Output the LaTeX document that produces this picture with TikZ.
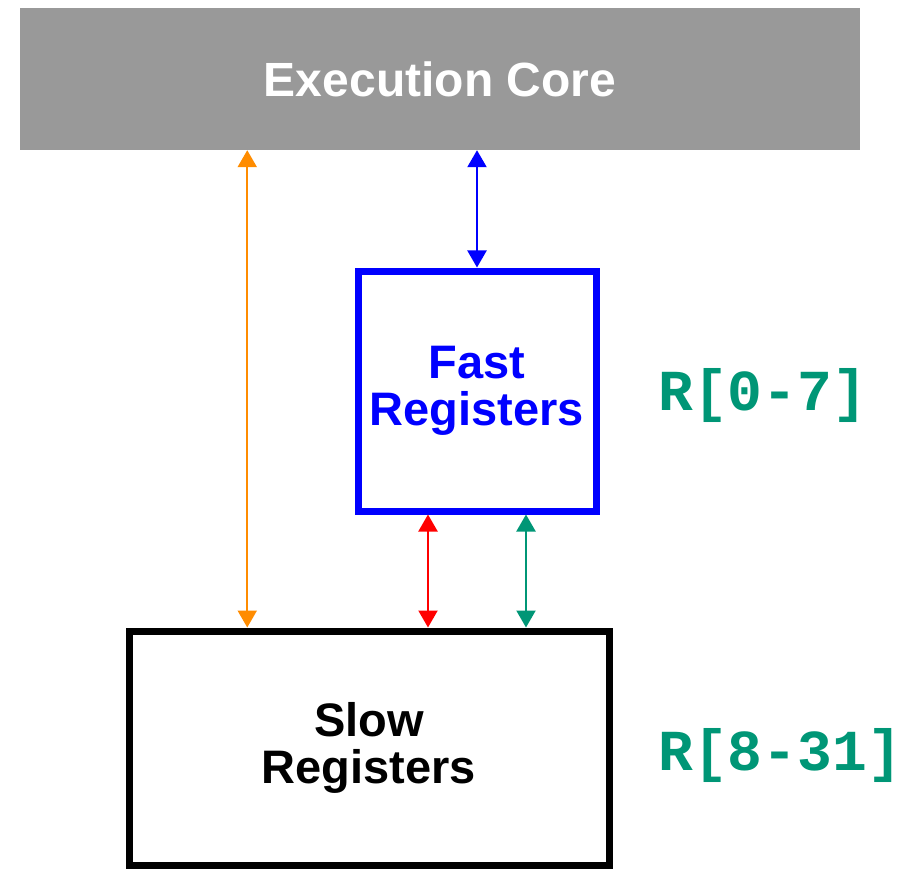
\documentclass[tikz,border=0pt]{standalone}
\usepackage{xcolor}
\usepackage{fontspec}
\setmainfont{Liberation Sans}
\newfontfamily\regfont{Liberation Mono}
\usepackage{tikz}
\usetikzlibrary{calc, arrows.meta}

\definecolor{coregray}{RGB}{153,153,153}
\definecolor{regteal}{RGB}{0,150,118}
\definecolor{busorange}{RGB}{255,140,0}

\begin{document}
\begin{tikzpicture}[x=1pt, y=-1pt, >={Triangle[width=19pt, length=17pt]},
    bus/.style={<->, line width=2.2pt},
    regbox/.style={rectangle, line width=7pt, fill=white, inner sep=0pt, align=center,
        font=\bfseries\fontsize{47}{47}\selectfont},
    reglabel/.style={anchor=west, inner sep=0pt, text=regteal,
        font=\regfont\bfseries\fontsize{58}{58}\selectfont}]
    % Frame
    \useasboundingbox (0,0) rectangle (913,869);

    % Coordinates
    \coordinate (core) at (440,79);
    \coordinate (fastpos) at (477,391);
    \coordinate (slowpos) at (369,748);
    \coordinate (A) at (658,396);
    \coordinate (B) at (658,755);

    % Execution core
    \node[rectangle, fill=coregray, inner sep=0pt, minimum width=840pt, minimum height=142pt,
        text=white, font=\bfseries\fontsize{48}{48}\selectfont] (CORE) at (core) {Execution Core};

    % Fast registers
    \node[regbox, draw=blue, text=blue, minimum width=238pt, minimum height=240pt] (FAST) at (fastpos) {Fast\\Registers};
    % Slow registers
    \node[regbox, draw=black, minimum width=480pt, minimum height=234pt] (SLOW) at (slowpos) {Slow\\Registers};

    % Text
    \node[reglabel] (a) at (A) {R[0-7]};
    \node[reglabel] (b) at (B) {R[8-31]};

    % Lines
    \coordinate (o) at ($(SLOW.north west)!0.25!(SLOW.north east)$);
    \coordinate (r) at ($(FAST.south west)!0.30!(FAST.south east)$);
    \coordinate (t) at ($(FAST.south west)!0.70!(FAST.south east)$);
    \draw[bus, busorange] (o |- CORE.south) -- (o);
    \draw[bus, blue] (FAST.north |- CORE.south) -- (FAST.north);
    \draw[bus, red] (r) -- (r |- SLOW.north);
    \draw[bus, regteal] (t) -- (t |- SLOW.north);
\end{tikzpicture}
\end{document}
